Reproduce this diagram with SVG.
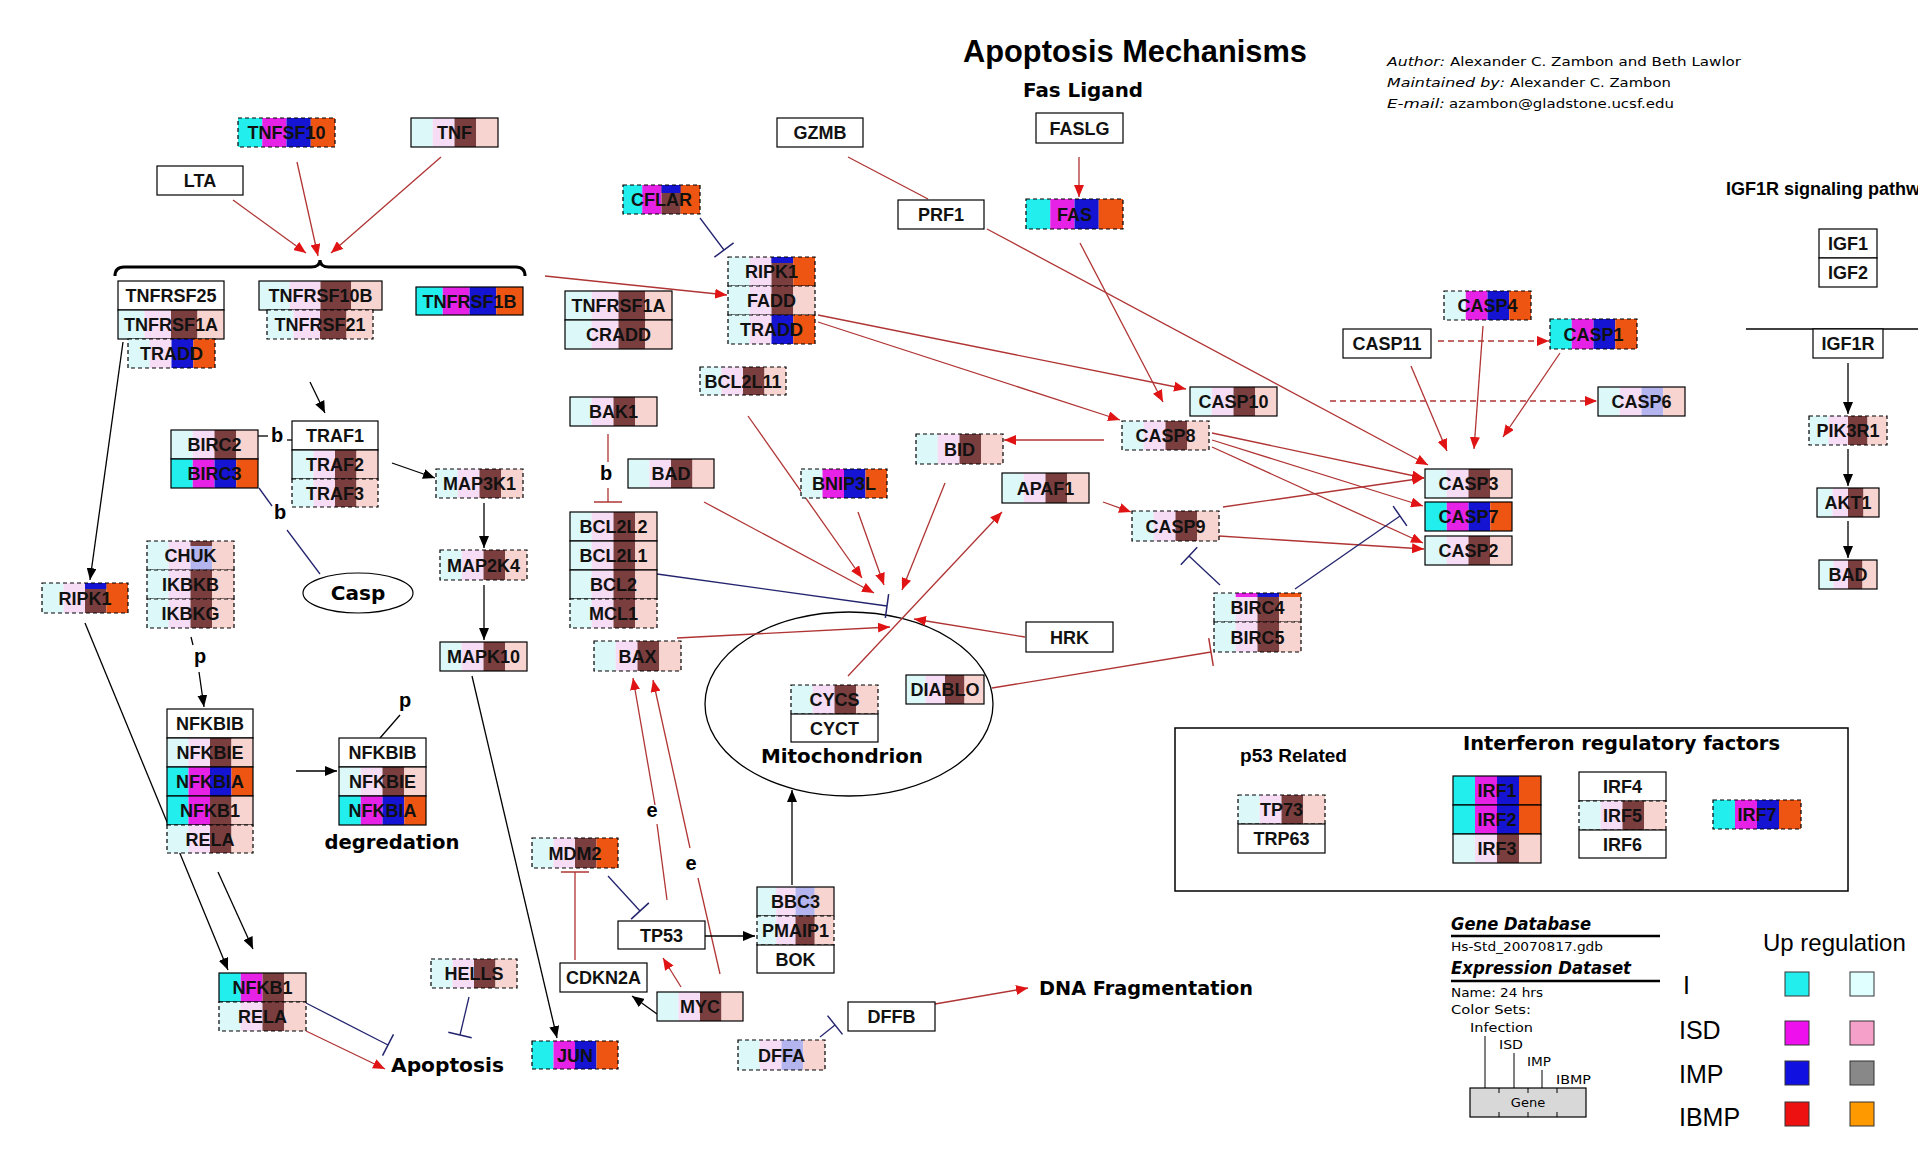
<svg xmlns="http://www.w3.org/2000/svg" width="1918" height="1164" viewBox="0 0 1918 1164">
<style>
.cy{fill:#22eeee}.lcy{fill:#dcf8f8}.mg{fill:#e622e6}.lmg{fill:#f6dcf4}.bl{fill:#1414d2}.br{fill:#7a3e3e}.lv{fill:#b4b4ee}.or{fill:#ee5512}.lor{fill:#f8d4d0}.wh{fill:#ffffff}
.bx{fill:none;stroke:#000;stroke-width:1.2}
.bd{stroke-dasharray:4 3}
.gt{font-family:"Liberation Sans",Arial,sans-serif;font-weight:bold;font-size:18px;text-anchor:middle;fill:#111}
.r{stroke:#b03434;stroke-width:1.3;fill:none}
.rd{stroke-dasharray:6 4}
.k{stroke:#000;stroke-width:1.3;fill:none}
.n{stroke:#23236e;stroke-width:1.3;fill:none}
.lbl{font-family:"DejaVu Sans",Verdana,sans-serif;font-weight:bold;font-size:20px;fill:#000}
.sm{font-family:"Liberation Sans",Arial,sans-serif;font-weight:bold;font-size:20px;fill:#000;text-anchor:middle}
.au{font-family:"DejaVu Sans",Verdana,sans-serif;font-size:13px;fill:#000}
.lg{font-family:"Liberation Sans",Arial,sans-serif;font-size:25px;fill:#000}
.lgs{font-family:"DejaVu Sans",Verdana,sans-serif;font-size:13px;fill:#000}
</style>
<defs>
<marker id="ar" viewBox="0 0 12 10" refX="12" refY="5" markerWidth="12" markerHeight="10" markerUnits="userSpaceOnUse" orient="auto"><path d="M0,0 L12,5 L0,10 z" fill="#e01414"/></marker>
<marker id="ak" viewBox="0 0 12 10" refX="12" refY="5" markerWidth="12" markerHeight="10" markerUnits="userSpaceOnUse" orient="auto"><path d="M0,0 L12,5 L0,10 z" fill="#000"/></marker>
<marker id="tn" viewBox="-2 -14 4 28" refX="0" refY="0" markerWidth="4" markerHeight="28" markerUnits="userSpaceOnUse" orient="auto"><path d="M0,-12 L0,12" stroke="#23236e" stroke-width="1.5"/></marker>
<marker id="tr" viewBox="-2 -15 4 30" refX="0" refY="0" markerWidth="4" markerHeight="30" markerUnits="userSpaceOnUse" orient="auto"><path d="M0,-14 L0,14" stroke="#b03434" stroke-width="1.5"/></marker>
</defs>
<rect width="1918" height="1164" fill="#fff"/>

<g id="labels">
<text x="1135" y="62" font-family="Liberation Sans,Arial,sans-serif" font-weight="bold" font-size="30.5" text-anchor="middle" textLength="344" lengthAdjust="spacingAndGlyphs">Apoptosis Mechanisms</text>
<text x="1083" y="97" class="lbl" text-anchor="middle" textLength="120" lengthAdjust="spacingAndGlyphs">Fas Ligand</text>
<text x="1387" y="66" class="au" font-style="italic" textLength="58" lengthAdjust="spacingAndGlyphs">Author:</text>
<text x="1450" y="66" class="au" textLength="291" lengthAdjust="spacingAndGlyphs">Alexander C. Zambon and Beth Lawlor</text>
<text x="1387" y="87" class="au" font-style="italic" textLength="118" lengthAdjust="spacingAndGlyphs">Maintained by:</text>
<text x="1510" y="87" class="au" textLength="161" lengthAdjust="spacingAndGlyphs">Alexander C. Zambon</text>
<text x="1387" y="108" class="au" font-style="italic" textLength="58" lengthAdjust="spacingAndGlyphs">E-mail:</text>
<text x="1449" y="108" class="au" textLength="225" lengthAdjust="spacingAndGlyphs">azambon@gladstone.ucsf.edu</text>
<text x="1726" y="195" font-family="Liberation Sans,Arial,sans-serif" font-weight="bold" font-size="18">IGF1R signaling pathw</text>
<text x="392" y="849" class="lbl" text-anchor="middle" textLength="135" lengthAdjust="spacingAndGlyphs">degredation</text>
<text x="391" y="1072" class="lbl" textLength="113" lengthAdjust="spacingAndGlyphs">Apoptosis</text>
<text x="842" y="763" class="lbl" text-anchor="middle" textLength="162" lengthAdjust="spacingAndGlyphs">Mitochondrion</text>
<text x="1039" y="995" class="lbl" textLength="214" lengthAdjust="spacingAndGlyphs">DNA Fragmentation</text>
<text x="1240" y="762" font-family="Liberation Sans,Arial,sans-serif" font-weight="bold" font-size="19" textLength="107" lengthAdjust="spacingAndGlyphs">p53 Related</text>
<text x="1463" y="750" class="lbl" font-size="19.5" textLength="317" lengthAdjust="spacingAndGlyphs">Interferon regulatory factors</text>
<text x="277" y="442" class="sm">b</text>
<text x="280" y="519" class="sm">b</text>
<text x="606" y="480" class="sm">b</text>
<text x="200" y="663" class="sm">p</text>
<text x="405" y="707" class="sm">p</text>
<text x="652" y="817" class="sm">e</text>
<text x="691" y="870" class="sm">e</text>
</g>

<g id="compartments">
<path d="M115,276 Q115,267 124,267 L311,267 Q320,267 320,260 Q320,267 329,267 L516,267 Q525,267 525,276" fill="none" stroke="#000" stroke-width="3"/>
<ellipse id="mitochondrion" cx="849" cy="704" rx="144" ry="92" fill="none" stroke="#000" stroke-width="1.3"/>
<g id="Casp"><ellipse cx="358" cy="593" rx="55" ry="20" fill="#fff" stroke="#000" stroke-width="1.2"/><text x="358" y="600" class="lbl" text-anchor="middle">Casp</text></g>
<rect x="1175" y="728" width="673" height="163" fill="none" stroke="#000" stroke-width="1.5"/>
<line x1="1746" y1="329" x2="1918" y2="329" stroke="#000" stroke-width="1.5"/>
</g>

<g id="connectors">
<!-- red activation -->
<line class="r" x1="233" y1="200" x2="306" y2="253" marker-end="url(#ar)"/>
<line class="r" x1="297" y1="162" x2="318" y2="256" marker-end="url(#ar)"/>
<line class="r" x1="441" y1="157" x2="331" y2="253" marker-end="url(#ar)"/>
<line class="r" x1="545" y1="276" x2="727" y2="295" marker-end="url(#ar)"/>
<line class="r" x1="1079" y1="157" x2="1079" y2="197" marker-end="url(#ar)"/>
<line class="r" x1="848" y1="157" x2="928" y2="199"/>
<line class="r" x1="818" y1="315" x2="1186" y2="389" marker-end="url(#ar)"/>
<line class="r" x1="818" y1="322" x2="1120" y2="420" marker-end="url(#ar)"/>
<line class="r" x1="1080" y1="243" x2="1163" y2="402" marker-end="url(#ar)"/>
<line class="r" x1="987" y1="229" x2="1428" y2="465" marker-end="url(#ar)"/>
<line class="r rd" x1="1438" y1="341" x2="1549" y2="341" marker-end="url(#ar)"/>
<line class="r rd" x1="1330" y1="401" x2="1597" y2="401" marker-end="url(#ar)"/>
<line class="r" x1="1411" y1="366" x2="1447" y2="451" marker-end="url(#ar)"/>
<line class="r" x1="1483" y1="326" x2="1474" y2="449" marker-end="url(#ar)"/>
<line class="r" x1="1560" y1="353" x2="1503" y2="437" marker-end="url(#ar)"/>
<line class="r" x1="1104" y1="440" x2="1004" y2="440" marker-end="url(#ar)"/>
<line class="r" x1="1212" y1="433" x2="1424" y2="478" marker-end="url(#ar)"/>
<line class="r" x1="1212" y1="440" x2="1423" y2="506" marker-end="url(#ar)"/>
<line class="r" x1="1212" y1="447" x2="1423" y2="543" marker-end="url(#ar)"/>
<line class="r" x1="1223" y1="507" x2="1424" y2="478" marker-end="url(#ar)"/>
<line class="r" x1="1219" y1="536" x2="1424" y2="549" marker-end="url(#ar)"/>
<line class="r" x1="1103" y1="502" x2="1131" y2="512" marker-end="url(#ar)"/>
<line class="r" x1="848" y1="676" x2="1002" y2="512" marker-end="url(#ar)"/>
<line class="r" x1="704" y1="502" x2="874" y2="593" marker-end="url(#ar)"/>
<line class="r" x1="748" y1="416" x2="862" y2="578" marker-end="url(#ar)"/>
<line class="r" x1="858" y1="512" x2="884" y2="585" marker-end="url(#ar)"/>
<line class="r" x1="945" y1="483" x2="902" y2="590" marker-end="url(#ar)"/>
<line class="r" x1="1025" y1="637" x2="914" y2="619" marker-end="url(#ar)"/>
<line class="r" x1="677" y1="638" x2="890" y2="627" marker-end="url(#ar)"/>
<line class="r" x1="667" y1="900" x2="657" y2="824"/>
<line class="r" x1="655" y1="805" x2="633" y2="678" marker-end="url(#ar)"/>
<line class="r" x1="720" y1="974" x2="698" y2="878"/>
<line class="r" x1="690" y1="848" x2="653" y2="680" marker-end="url(#ar)"/>
<line class="r" x1="681" y1="987" x2="663" y2="958" marker-end="url(#ar)"/>
<line class="r" x1="935" y1="1004" x2="1028" y2="988" marker-end="url(#ar)"/>
<line class="r" x1="306" y1="1031" x2="385" y2="1069" marker-end="url(#ar)"/>
<!-- black activation -->
<line class="k" x1="123" y1="342" x2="90" y2="580" marker-end="url(#ak)"/>
<line class="k" x1="310" y1="382" x2="325" y2="413" marker-end="url(#ak)"/>
<line class="k" x1="392" y1="463" x2="435" y2="478" marker-end="url(#ak)"/>
<line class="k" x1="484" y1="503" x2="484" y2="548" marker-end="url(#ak)"/>
<line class="k" x1="484" y1="585" x2="484" y2="640" marker-end="url(#ak)"/>
<line class="k" x1="472" y1="676" x2="557" y2="1038" marker-end="url(#ak)"/>
<line class="k" x1="191" y1="637" x2="193" y2="645"/>
<line class="k" x1="199" y1="672" x2="204" y2="707" marker-end="url(#ak)"/>
<line class="k" x1="296" y1="771" x2="337" y2="771" marker-end="url(#ak)"/>
<line class="k" x1="85" y1="623" x2="228" y2="970" marker-end="url(#ak)"/>
<line class="k" x1="218" y1="872" x2="253" y2="949" marker-end="url(#ak)"/>
<line class="k" x1="705" y1="936" x2="755" y2="936" marker-end="url(#ak)"/>
<line class="k" x1="792" y1="885" x2="792" y2="790" marker-end="url(#ak)"/>
<line class="k" x1="657" y1="1014" x2="632" y2="996" marker-end="url(#ak)"/>
<line class="k" x1="1848" y1="363" x2="1848" y2="414" marker-end="url(#ak)"/>
<line class="k" x1="1848" y1="449" x2="1848" y2="486" marker-end="url(#ak)"/>
<line class="k" x1="1848" y1="521" x2="1848" y2="558" marker-end="url(#ak)"/>
<!-- plain binding lines -->
<line class="k" x1="258" y1="436" x2="268" y2="436"/>
<line class="k" x1="287" y1="440" x2="292" y2="440"/>
<line class="n" x1="259" y1="488" x2="272" y2="506"/>
<line class="n" x1="287" y1="530" x2="320" y2="574"/>
<line class="k" x1="380" y1="738" x2="400" y2="715"/>
<!-- inhibition -->
<line class="n" x1="700" y1="218" x2="724" y2="250" marker-end="url(#tn)"/>
<line class="n" x1="657" y1="574" x2="887" y2="606" marker-end="url(#tn)"/>
<line class="n" x1="1220" y1="585" x2="1189" y2="556" marker-end="url(#tn)"/>
<line class="n" x1="1295" y1="589" x2="1400" y2="516" marker-end="url(#tn)"/>
<line class="n" x1="306" y1="1003" x2="388" y2="1045" marker-end="url(#tn)"/>
<line class="n" x1="469" y1="997" x2="460" y2="1035" marker-end="url(#tn)"/>
<line class="n" x1="608" y1="876" x2="640" y2="911" marker-end="url(#tn)"/>
<line class="n" x1="820" y1="1037" x2="835" y2="1025" marker-end="url(#tn)"/>
<line class="r" x1="608" y1="434" x2="608" y2="462"/>
<line class="r" x1="608" y1="488" x2="608" y2="502" marker-end="url(#tr)"/>
<line class="r" x1="575" y1="960" x2="575" y2="872" marker-end="url(#tr)"/>
<line class="r" x1="992" y1="688" x2="1211" y2="652" marker-end="url(#tr)"/>
</g>

<g id="nodes">
<g id="TNFSF10" transform="translate(238 118)"><rect class="cy" width="24.25" height="29"/><rect class="mg" x="24.25" width="24.25" height="29"/><rect class="bl" x="48.5" width="24.25" height="29"/><rect class="or" x="72.75" width="24.25" height="29"/><rect class="bx bd" width="97" height="29"/><text class="gt" x="48.5" y="21">TNFSF10</text></g>
<g id="TNF" transform="translate(411 118)"><rect class="lcy" width="21.75" height="29"/><rect class="lmg" x="21.75" width="21.75" height="29"/><rect class="br" x="43.5" width="21.75" height="29"/><rect class="lor" x="65.25" width="21.75" height="29"/><rect class="bx" width="87" height="29"/><text class="gt" x="43.5" y="21">TNF</text></g>
<g id="LTA" transform="translate(157 166)"><rect class="wh" width="86" height="29"/><rect class="bx" width="86" height="29"/><text class="gt" x="43" y="21">LTA</text></g>
<g id="GZMB" transform="translate(777 118)"><rect class="wh" width="86" height="29"/><rect class="bx" width="86" height="29"/><text class="gt" x="43" y="21">GZMB</text></g>
<g id="PRF1" transform="translate(898 200)"><rect class="wh" width="86" height="29"/><rect class="bx" width="86" height="29"/><text class="gt" x="43" y="21">PRF1</text></g>
<g id="FASLG" transform="translate(1036 113)"><rect class="wh" width="87" height="30"/><rect class="bx" width="87" height="30"/><text class="gt" x="43.5" y="21.5">FASLG</text></g>
<g id="FAS" transform="translate(1026 199)"><rect class="cy" width="24.25" height="30"/><rect class="mg" x="24.25" width="24.25" height="30"/><rect class="bl" x="48.5" width="24.25" height="30"/><rect class="or" x="72.75" width="24.25" height="30"/><rect class="bx bd" width="97" height="30"/><text class="gt" x="48.5" y="21.5">FAS</text></g>
<g id="CFLAR" transform="translate(623 185)"><rect class="cy" width="19.25" height="29"/><rect class="mg" x="19.25" width="19.25" height="29"/><rect class="br" x="38.5" width="19.25" height="29"/><rect class="bl" x="38.5" width="19.25" height="8"/><rect class="or" x="57.75" width="19.25" height="29"/><rect class="bx bd" width="77" height="29"/><text class="gt" x="38.5" y="21">CFLAR</text></g>
<g id="RIPK1-a" transform="translate(728 257)"><rect class="lcy" width="21.75" height="29"/><rect class="lmg" x="21.75" width="21.75" height="29"/><rect class="br" x="43.5" width="21.75" height="29"/><rect class="bl" x="43.5" width="21.75" height="6"/><rect class="or" x="65.25" width="21.75" height="29"/><rect class="bx bd" width="87" height="29"/><text class="gt" x="43.5" y="21">RIPK1</text></g>
<g id="FADD" transform="translate(728 286)"><rect class="lcy" width="21.75" height="29"/><rect class="lmg" x="21.75" width="21.75" height="29"/><rect class="br" x="43.5" width="21.75" height="29"/><rect class="lor" x="65.25" width="21.75" height="29"/><rect class="bx bd" width="87" height="29"/><text class="gt" x="43.5" y="21">FADD</text></g>
<g id="TRADD-a" transform="translate(728 315)"><rect class="lcy" width="21.75" height="29"/><rect class="lmg" x="21.75" width="21.75" height="29"/><rect class="bl" x="43.5" width="21.75" height="29"/><rect class="or" x="65.25" width="21.75" height="29"/><rect class="bx bd" width="87" height="29"/><text class="gt" x="43.5" y="21">TRADD</text></g>
<g id="TNFRSF1A-a" transform="translate(565 291)"><rect class="lcy" width="26.75" height="29"/><rect class="lmg" x="26.75" width="26.75" height="29"/><rect class="br" x="53.5" width="26.75" height="29"/><rect class="lor" x="80.25" width="26.75" height="29"/><rect class="bx" width="107" height="29"/><text class="gt" x="53.5" y="21">TNFRSF1A</text></g>
<g id="CRADD" transform="translate(565 320)"><rect class="lcy" width="26.75" height="29"/><rect class="lmg" x="26.75" width="26.75" height="29"/><rect class="br" x="53.5" width="26.75" height="29"/><rect class="lor" x="80.25" width="26.75" height="29"/><rect class="bx" width="107" height="29"/><text class="gt" x="53.5" y="21">CRADD</text></g>
<g id="BCL2L11" transform="translate(700 367)"><rect class="lcy" width="21.5" height="28"/><rect class="lmg" x="21.5" width="21.5" height="28"/><rect class="br" x="43" width="21.5" height="28"/><rect class="lor" x="64.5" width="21.5" height="28"/><rect class="bx bd" width="86" height="28"/><text class="gt" x="43" y="20.5">BCL2L11</text></g>
<g id="TNFRSF25" transform="translate(118 281)"><rect class="wh" width="106" height="29"/><rect class="bx" width="106" height="29"/><text class="gt" x="53" y="21">TNFRSF25</text></g>
<g id="TNFRSF1A-b" transform="translate(118 310)"><rect class="lcy" width="26.5" height="29"/><rect class="lmg" x="26.5" width="26.5" height="29"/><rect class="br" x="53" width="26.5" height="29"/><rect class="lor" x="79.5" width="26.5" height="29"/><rect class="bx" width="106" height="29"/><text class="gt" x="53" y="21">TNFRSF1A</text></g>
<g id="TRADD-b" transform="translate(128 339)"><rect class="lcy" width="21.75" height="29"/><rect class="lmg" x="21.75" width="21.75" height="29"/><rect class="bl" x="43.5" width="21.75" height="29"/><rect class="or" x="65.25" width="21.75" height="29"/><rect class="bx bd" width="87" height="29"/><text class="gt" x="43.5" y="21">TRADD</text></g>
<g id="TNFRSF10B" transform="translate(259 281)"><rect class="lcy" width="30.75" height="29"/><rect class="lmg" x="30.75" width="30.75" height="29"/><rect class="br" x="61.5" width="30.75" height="29"/><rect class="lor" x="92.25" width="30.75" height="29"/><rect class="bx" width="123" height="29"/><text class="gt" x="61.5" y="21">TNFRSF10B</text></g>
<g id="TNFRSF21" transform="translate(267 310)"><rect class="lcy" width="26.5" height="29"/><rect class="lmg" x="26.5" width="26.5" height="29"/><rect class="br" x="53" width="26.5" height="29"/><rect class="lor" x="79.5" width="26.5" height="29"/><rect class="bx bd" width="106" height="29"/><text class="gt" x="53" y="21">TNFRSF21</text></g>
<g id="TNFRSF1B" transform="translate(416 287)"><rect class="cy" width="26.75" height="28"/><rect class="mg" x="26.75" width="26.75" height="28"/><rect class="bl" x="53.5" width="26.75" height="28"/><rect class="or" x="80.25" width="26.75" height="28"/><rect class="bx" width="107" height="28"/><text class="gt" x="53.5" y="20.5">TNFRSF1B</text></g>
<g id="CASP11" transform="translate(1343 329)"><rect class="wh" width="88" height="29"/><rect class="bx" width="88" height="29"/><text class="gt" x="44" y="21">CASP11</text></g>
<g id="CASP4" transform="translate(1444 291)"><rect class="lcy" width="21.75" height="29"/><rect class="mg" x="21.75" width="21.75" height="29"/><rect class="bl" x="43.5" width="21.75" height="29"/><rect class="or" x="65.25" width="21.75" height="29"/><rect class="bx bd" width="87" height="29"/><text class="gt" x="43.5" y="21">CASP4</text></g>
<g id="CASP1" transform="translate(1550 319)"><rect class="cy" width="21.75" height="30"/><rect class="mg" x="21.75" width="21.75" height="30"/><rect class="bl" x="43.5" width="21.75" height="30"/><rect class="or" x="65.25" width="21.75" height="30"/><rect class="bx bd" width="87" height="30"/><text class="gt" x="43.5" y="21.5">CASP1</text></g>
<g id="IGF1" transform="translate(1819 229)"><rect class="wh" width="58" height="29"/><rect class="bx" width="58" height="29"/><text class="gt" x="29" y="21">IGF1</text></g>
<g id="IGF2" transform="translate(1819 258)"><rect class="wh" width="58" height="29"/><rect class="bx" width="58" height="29"/><text class="gt" x="29" y="21">IGF2</text></g>
<g id="IGF1R" transform="translate(1813 329)"><rect class="wh" width="70" height="29"/><rect class="bx" width="70" height="29"/><text class="gt" x="35" y="21">IGF1R</text></g>
<g id="PIK3R1" transform="translate(1809 416)"><rect class="lcy" width="19.5" height="29"/><rect class="lmg" x="19.5" width="19.5" height="29"/><rect class="br" x="39" width="19.5" height="29"/><rect class="lor" x="58.5" width="19.5" height="29"/><rect class="bx bd" width="78" height="29"/><text class="gt" x="39" y="21">PIK3R1</text></g>
<g id="AKT1" transform="translate(1817 488)"><rect class="lcy" width="15.5" height="29"/><rect class="lmg" x="15.5" width="15.5" height="29"/><rect class="br" x="31" width="15.5" height="29"/><rect class="lor" x="46.5" width="15.5" height="29"/><rect class="bx" width="62" height="29"/><text class="gt" x="31" y="21">AKT1</text></g>
<g id="BAD-b" transform="translate(1819 560)"><rect class="lcy" width="14.5" height="29"/><rect class="lmg" x="14.5" width="14.5" height="29"/><rect class="br" x="29" width="14.5" height="29"/><rect class="lor" x="43.5" width="14.5" height="29"/><rect class="bx" width="58" height="29"/><text class="gt" x="29" y="21">BAD</text></g>
<g id="CASP6" transform="translate(1598 387)"><rect class="lcy" width="21.75" height="29"/><rect class="lmg" x="21.75" width="21.75" height="29"/><rect class="lv" x="43.5" width="21.75" height="29"/><rect class="lor" x="65.25" width="21.75" height="29"/><rect class="bx" width="87" height="29"/><text class="gt" x="43.5" y="21">CASP6</text></g>
<g id="CASP10" transform="translate(1190 387)"><rect class="lcy" width="21.75" height="29"/><rect class="lmg" x="21.75" width="21.75" height="29"/><rect class="br" x="43.5" width="21.75" height="29"/><rect class="lor" x="65.25" width="21.75" height="29"/><rect class="bx" width="87" height="29"/><text class="gt" x="43.5" y="21">CASP10</text></g>
<g id="CASP8" transform="translate(1122 421)"><rect class="lcy" width="21.75" height="29"/><rect class="lmg" x="21.75" width="21.75" height="29"/><rect class="br" x="43.5" width="21.75" height="29"/><rect class="lor" x="65.25" width="21.75" height="29"/><rect class="bx bd" width="87" height="29"/><text class="gt" x="43.5" y="21">CASP8</text></g>
<g id="BID" transform="translate(916 434)"><rect class="lcy" width="21.75" height="30"/><rect class="lmg" x="21.75" width="21.75" height="30"/><rect class="br" x="43.5" width="21.75" height="30"/><rect class="lor" x="65.25" width="21.75" height="30"/><rect class="bx bd" width="87" height="30"/><text class="gt" x="43.5" y="21.5">BID</text></g>
<g id="APAF1" transform="translate(1002 473)"><rect class="lcy" width="21.75" height="30"/><rect class="lmg" x="21.75" width="21.75" height="30"/><rect class="br" x="43.5" width="21.75" height="30"/><rect class="lor" x="65.25" width="21.75" height="30"/><rect class="bx" width="87" height="30"/><text class="gt" x="43.5" y="21.5">APAF1</text></g>
<g id="CASP9" transform="translate(1132 511)"><rect class="lcy" width="21.75" height="30"/><rect class="lmg" x="21.75" width="21.75" height="30"/><rect class="br" x="43.5" width="21.75" height="30"/><rect class="lor" x="65.25" width="21.75" height="30"/><rect class="bx bd" width="87" height="30"/><text class="gt" x="43.5" y="21.5">CASP9</text></g>
<g id="CASP3" transform="translate(1425 469)"><rect class="lcy" width="21.75" height="29"/><rect class="lmg" x="21.75" width="21.75" height="29"/><rect class="br" x="43.5" width="21.75" height="29"/><rect class="lor" x="65.25" width="21.75" height="29"/><rect class="bx" width="87" height="29"/><text class="gt" x="43.5" y="21">CASP3</text></g>
<g id="CASP7" transform="translate(1425 502)"><rect class="cy" width="21.75" height="29"/><rect class="mg" x="21.75" width="21.75" height="29"/><rect class="bl" x="43.5" width="21.75" height="29"/><rect class="or" x="65.25" width="21.75" height="29"/><rect class="bx" width="87" height="29"/><text class="gt" x="43.5" y="21">CASP7</text></g>
<g id="CASP2" transform="translate(1425 536)"><rect class="lcy" width="21.75" height="29"/><rect class="lmg" x="21.75" width="21.75" height="29"/><rect class="br" x="43.5" width="21.75" height="29"/><rect class="lor" x="65.25" width="21.75" height="29"/><rect class="bx" width="87" height="29"/><text class="gt" x="43.5" y="21">CASP2</text></g>
<g id="BIRC4" transform="translate(1214 593)"><rect class="lcy" width="21.75" height="29"/><rect class="lmg" x="21.75" width="21.75" height="29"/><rect class="mg" x="21.75" width="21.75" height="4"/><rect class="br" x="43.5" width="21.75" height="29"/><rect class="bl" x="43.5" width="21.75" height="4"/><rect class="lor" x="65.25" width="21.75" height="29"/><rect class="or" x="65.25" width="21.75" height="4"/><rect class="bx bd" width="87" height="29"/><text class="gt" x="43.5" y="21">BIRC4</text></g>
<g id="BIRC5" transform="translate(1214 622)"><rect class="lcy" width="21.75" height="30"/><rect class="lmg" x="21.75" width="21.75" height="30"/><rect class="br" x="43.5" width="21.75" height="30"/><rect class="lor" x="65.25" width="21.75" height="30"/><rect class="bx bd" width="87" height="30"/><text class="gt" x="43.5" y="21.5">BIRC5</text></g>
<g id="HRK" transform="translate(1026 622)"><rect class="wh" width="87" height="30"/><rect class="bx" width="87" height="30"/><text class="gt" x="43.5" y="21.5">HRK</text></g>
<g id="DIABLO" transform="translate(906 675)"><rect class="lcy" width="19.5" height="29"/><rect class="lmg" x="19.5" width="19.5" height="29"/><rect class="br" x="39" width="19.5" height="29"/><rect class="lor" x="58.5" width="19.5" height="29"/><rect class="bx" width="78" height="29"/><text class="gt" x="39" y="21">DIABLO</text></g>
<g id="CYCS" transform="translate(791 685)"><rect class="lcy" width="21.75" height="29"/><rect class="lmg" x="21.75" width="21.75" height="29"/><rect class="br" x="43.5" width="21.75" height="29"/><rect class="lor" x="65.25" width="21.75" height="29"/><rect class="bx bd" width="87" height="29"/><text class="gt" x="43.5" y="21">CYCS</text></g>
<g id="CYCT" transform="translate(791 714)"><rect class="wh" width="87" height="28"/><rect class="bx" width="87" height="28"/><text class="gt" x="43.5" y="20.5">CYCT</text></g>
<g id="BAK1" transform="translate(570 397)"><rect class="lcy" width="21.75" height="29"/><rect class="lmg" x="21.75" width="21.75" height="29"/><rect class="br" x="43.5" width="21.75" height="29"/><rect class="lor" x="65.25" width="21.75" height="29"/><rect class="bx" width="87" height="29"/><text class="gt" x="43.5" y="21">BAK1</text></g>
<g id="BAD-a" transform="translate(628 459)"><rect class="lcy" width="21.5" height="29"/><rect class="lmg" x="21.5" width="21.5" height="29"/><rect class="br" x="43" width="21.5" height="29"/><rect class="lor" x="64.5" width="21.5" height="29"/><rect class="bx" width="86" height="29"/><text class="gt" x="43" y="21">BAD</text></g>
<g id="BCL2L2" transform="translate(570 512)"><rect class="lcy" width="21.75" height="29"/><rect class="lmg" x="21.75" width="21.75" height="29"/><rect class="br" x="43.5" width="21.75" height="29"/><rect class="lor" x="65.25" width="21.75" height="29"/><rect class="bx" width="87" height="29"/><text class="gt" x="43.5" y="21">BCL2L2</text></g>
<g id="BCL2L1" transform="translate(570 541)"><rect class="lcy" width="21.75" height="29"/><rect class="lmg" x="21.75" width="21.75" height="29"/><rect class="br" x="43.5" width="21.75" height="29"/><rect class="lor" x="65.25" width="21.75" height="29"/><rect class="bx" width="87" height="29"/><text class="gt" x="43.5" y="21">BCL2L1</text></g>
<g id="BCL2" transform="translate(570 570)"><rect class="lcy" width="21.75" height="29"/><rect class="lmg" x="21.75" width="21.75" height="29"/><rect class="br" x="43.5" width="21.75" height="29"/><rect class="lor" x="65.25" width="21.75" height="29"/><rect class="bx" width="87" height="29"/><text class="gt" x="43.5" y="21">BCL2</text></g>
<g id="MCL1" transform="translate(570 599)"><rect class="lcy" width="21.75" height="29"/><rect class="lmg" x="21.75" width="21.75" height="29"/><rect class="br" x="43.5" width="21.75" height="29"/><rect class="lor" x="65.25" width="21.75" height="29"/><rect class="bx bd" width="87" height="29"/><text class="gt" x="43.5" y="21">MCL1</text></g>
<g id="BAX" transform="translate(594 641)"><rect class="lcy" width="21.75" height="30"/><rect class="lmg" x="21.75" width="21.75" height="30"/><rect class="br" x="43.5" width="21.75" height="30"/><rect class="lor" x="65.25" width="21.75" height="30"/><rect class="bx bd" width="87" height="30"/><text class="gt" x="43.5" y="21.5">BAX</text></g>
<g id="BNIP3L" transform="translate(801 469)"><rect class="lcy" width="21.5" height="29"/><rect class="mg" x="21.5" width="21.5" height="29"/><rect class="bl" x="43" width="21.5" height="29"/><rect class="or" x="64.5" width="21.5" height="29"/><rect class="bx bd" width="86" height="29"/><text class="gt" x="43" y="21">BNIP3L</text></g>
<g id="MAP3K1" transform="translate(436 469)"><rect class="lcy" width="21.75" height="29"/><rect class="lmg" x="21.75" width="21.75" height="29"/><rect class="br" x="43.5" width="21.75" height="29"/><rect class="lor" x="65.25" width="21.75" height="29"/><rect class="bx bd" width="87" height="29"/><text class="gt" x="43.5" y="21">MAP3K1</text></g>
<g id="MAP2K4" transform="translate(440 550)"><rect class="lcy" width="21.75" height="30"/><rect class="lmg" x="21.75" width="21.75" height="30"/><rect class="br" x="43.5" width="21.75" height="30"/><rect class="lor" x="65.25" width="21.75" height="30"/><rect class="bx bd" width="87" height="30"/><text class="gt" x="43.5" y="21.5">MAP2K4</text></g>
<g id="MAPK10" transform="translate(440 642)"><rect class="lcy" width="21.75" height="29"/><rect class="lmg" x="21.75" width="21.75" height="29"/><rect class="br" x="43.5" width="21.75" height="29"/><rect class="lor" x="65.25" width="21.75" height="29"/><rect class="bx" width="87" height="29"/><text class="gt" x="43.5" y="21">MAPK10</text></g>
<g id="BIRC2" transform="translate(171 430)"><rect class="lcy" width="21.75" height="29"/><rect class="lmg" x="21.75" width="21.75" height="29"/><rect class="br" x="43.5" width="21.75" height="29"/><rect class="lor" x="65.25" width="21.75" height="29"/><rect class="bx" width="87" height="29"/><text class="gt" x="43.5" y="21">BIRC2</text></g>
<g id="BIRC3" transform="translate(171 459)"><rect class="cy" width="21.75" height="29"/><rect class="mg" x="21.75" width="21.75" height="29"/><rect class="bl" x="43.5" width="21.75" height="29"/><rect class="or" x="65.25" width="21.75" height="29"/><rect class="bx" width="87" height="29"/><text class="gt" x="43.5" y="21">BIRC3</text></g>
<g id="TRAF1" transform="translate(292 421)"><rect class="wh" width="86" height="29"/><rect class="bx" width="86" height="29"/><text class="gt" x="43" y="21">TRAF1</text></g>
<g id="TRAF2" transform="translate(292 450)"><rect class="lcy" width="21.5" height="29"/><rect class="lmg" x="21.5" width="21.5" height="29"/><rect class="br" x="43" width="21.5" height="29"/><rect class="lor" x="64.5" width="21.5" height="29"/><rect class="bx" width="86" height="29"/><text class="gt" x="43" y="21">TRAF2</text></g>
<g id="TRAF3" transform="translate(292 479)"><rect class="lcy" width="21.5" height="28"/><rect class="lmg" x="21.5" width="21.5" height="28"/><rect class="br" x="43" width="21.5" height="28"/><rect class="lor" x="64.5" width="21.5" height="28"/><rect class="bx bd" width="86" height="28"/><text class="gt" x="43" y="20.5">TRAF3</text></g>
<g id="RIPK1-b" transform="translate(42 583)"><rect class="lcy" width="21.5" height="30"/><rect class="lmg" x="21.5" width="21.5" height="30"/><rect class="br" x="43" width="21.5" height="30"/><rect class="bl" x="43" width="21.5" height="6"/><rect class="or" x="64.5" width="21.5" height="30"/><rect class="bx bd" width="86" height="30"/><text class="gt" x="43" y="21.5">RIPK1</text></g>
<g id="CHUK" transform="translate(147 541)"><rect class="lcy" width="21.75" height="29"/><rect class="lmg" x="21.75" width="21.75" height="29"/><rect class="lv" x="43.5" width="21.75" height="29"/><rect class="br" x="43.5" width="21.75" height="5"/><rect class="lor" x="65.25" width="21.75" height="29"/><rect class="bx bd" width="87" height="29"/><text class="gt" x="43.5" y="21">CHUK</text></g>
<g id="IKBKB" transform="translate(147 570)"><rect class="lcy" width="21.75" height="29"/><rect class="lmg" x="21.75" width="21.75" height="29"/><rect class="br" x="43.5" width="21.75" height="29"/><rect class="lor" x="65.25" width="21.75" height="29"/><rect class="bx bd" width="87" height="29"/><text class="gt" x="43.5" y="21">IKBKB</text></g>
<g id="IKBKG" transform="translate(147 599)"><rect class="lcy" width="21.75" height="29"/><rect class="lmg" x="21.75" width="21.75" height="29"/><rect class="br" x="43.5" width="21.75" height="29"/><rect class="lor" x="65.25" width="21.75" height="29"/><rect class="bx bd" width="87" height="29"/><text class="gt" x="43.5" y="21">IKBKG</text></g>
<g id="NFKBIB-a" transform="translate(167 709)"><rect class="wh" width="86" height="29"/><rect class="bx" width="86" height="29"/><text class="gt" x="43" y="21">NFKBIB</text></g>
<g id="NFKBIE-a" transform="translate(167 738)"><rect class="lcy" width="21.5" height="29"/><rect class="lmg" x="21.5" width="21.5" height="29"/><rect class="br" x="43" width="21.5" height="29"/><rect class="lor" x="64.5" width="21.5" height="29"/><rect class="bx" width="86" height="29"/><text class="gt" x="43" y="21">NFKBIE</text></g>
<g id="NFKBIA-a" transform="translate(167 767)"><rect class="cy" width="21.5" height="29"/><rect class="mg" x="21.5" width="21.5" height="29"/><rect class="bl" x="43" width="21.5" height="29"/><rect class="or" x="64.5" width="21.5" height="29"/><rect class="bx" width="86" height="29"/><text class="gt" x="43" y="21">NFKBIA</text></g>
<g id="NFKB1-a" transform="translate(167 796)"><rect class="cy" width="21.5" height="29"/><rect class="mg" x="21.5" width="21.5" height="29"/><rect class="br" x="43" width="21.5" height="29"/><rect class="lor" x="64.5" width="21.5" height="29"/><rect class="bx" width="86" height="29"/><text class="gt" x="43" y="21">NFKB1</text></g>
<g id="RELA-a" transform="translate(167 825)"><rect class="lcy" width="21.5" height="28"/><rect class="lmg" x="21.5" width="21.5" height="28"/><rect class="br" x="43" width="21.5" height="28"/><rect class="lor" x="64.5" width="21.5" height="28"/><rect class="bx bd" width="86" height="28"/><text class="gt" x="43" y="20.5">RELA</text></g>
<g id="NFKBIB-b" transform="translate(339 738)"><rect class="wh" width="87" height="29"/><rect class="bx" width="87" height="29"/><text class="gt" x="43.5" y="21">NFKBIB</text></g>
<g id="NFKBIE-b" transform="translate(339 767)"><rect class="lcy" width="21.75" height="29"/><rect class="lmg" x="21.75" width="21.75" height="29"/><rect class="br" x="43.5" width="21.75" height="29"/><rect class="lor" x="65.25" width="21.75" height="29"/><rect class="bx" width="87" height="29"/><text class="gt" x="43.5" y="21">NFKBIE</text></g>
<g id="NFKBIA-b" transform="translate(339 796)"><rect class="cy" width="21.75" height="29"/><rect class="mg" x="21.75" width="21.75" height="29"/><rect class="bl" x="43.5" width="21.75" height="29"/><rect class="or" x="65.25" width="21.75" height="29"/><rect class="bx" width="87" height="29"/><text class="gt" x="43.5" y="21">NFKBIA</text></g>
<g id="NFKB1-b" transform="translate(219 973)"><rect class="cy" width="21.75" height="29"/><rect class="mg" x="21.75" width="21.75" height="29"/><rect class="br" x="43.5" width="21.75" height="29"/><rect class="lor" x="65.25" width="21.75" height="29"/><rect class="bx" width="87" height="29"/><text class="gt" x="43.5" y="21">NFKB1</text></g>
<g id="RELA-b" transform="translate(219 1002)"><rect class="lcy" width="21.75" height="29"/><rect class="lmg" x="21.75" width="21.75" height="29"/><rect class="br" x="43.5" width="21.75" height="29"/><rect class="lor" x="65.25" width="21.75" height="29"/><rect class="bx bd" width="87" height="29"/><text class="gt" x="43.5" y="21">RELA</text></g>
<g id="HELLS" transform="translate(431 959)"><rect class="lcy" width="21.5" height="29"/><rect class="lmg" x="21.5" width="21.5" height="29"/><rect class="br" x="43" width="21.5" height="29"/><rect class="lor" x="64.5" width="21.5" height="29"/><rect class="bx bd" width="86" height="29"/><text class="gt" x="43" y="21">HELLS</text></g>
<g id="JUN" transform="translate(532 1041)"><rect class="cy" width="21.5" height="28"/><rect class="mg" x="21.5" width="21.5" height="28"/><rect class="bl" x="43" width="21.5" height="28"/><rect class="or" x="64.5" width="21.5" height="28"/><rect class="bx bd" width="86" height="28"/><text class="gt" x="43" y="20.5">JUN</text></g>
<g id="MDM2" transform="translate(532 838)"><rect class="lcy" width="21.5" height="30"/><rect class="lmg" x="21.5" width="21.5" height="30"/><rect class="br" x="43" width="21.5" height="30"/><rect class="or" x="64.5" width="21.5" height="30"/><rect class="bx bd" width="86" height="30"/><text class="gt" x="43" y="21.5">MDM2</text></g>
<g id="CDKN2A" transform="translate(560 963)"><rect class="wh" width="87" height="29"/><rect class="bx" width="87" height="29"/><text class="gt" x="43.5" y="21">CDKN2A</text></g>
<g id="TP53" transform="translate(618 921)"><rect class="wh" width="87" height="28"/><rect class="bx" width="87" height="28"/><text class="gt" x="43.5" y="20.5">TP53</text></g>
<g id="MYC" transform="translate(657 992)"><rect class="lcy" width="21.5" height="29"/><rect class="lmg" x="21.5" width="21.5" height="29"/><rect class="br" x="43" width="21.5" height="29"/><rect class="lor" x="64.5" width="21.5" height="29"/><rect class="bx" width="86" height="29"/><text class="gt" x="43" y="21">MYC</text></g>
<g id="BBC3" transform="translate(757 887)"><rect class="lcy" width="19.25" height="29"/><rect class="lmg" x="19.25" width="19.25" height="29"/><rect class="lv" x="38.5" width="19.25" height="29"/><rect class="lor" x="57.75" width="19.25" height="29"/><rect class="bx" width="77" height="29"/><text class="gt" x="38.5" y="21">BBC3</text></g>
<g id="PMAIP1" transform="translate(757 916)"><rect class="lcy" width="19.25" height="29"/><rect class="lmg" x="19.25" width="19.25" height="29"/><rect class="br" x="38.5" width="19.25" height="29"/><rect class="lor" x="57.75" width="19.25" height="29"/><rect class="bx bd" width="77" height="29"/><text class="gt" x="38.5" y="21">PMAIP1</text></g>
<g id="BOK" transform="translate(757 945)"><rect class="wh" width="77" height="28"/><rect class="bx" width="77" height="28"/><text class="gt" x="38.5" y="20.5">BOK</text></g>
<g id="DFFA" transform="translate(738 1040)"><rect class="lcy" width="21.75" height="30"/><rect class="lmg" x="21.75" width="21.75" height="30"/><rect class="lv" x="43.5" width="21.75" height="30"/><rect class="lor" x="65.25" width="21.75" height="30"/><rect class="bx bd" width="87" height="30"/><text class="gt" x="43.5" y="21.5">DFFA</text></g>
<g id="DFFB" transform="translate(848 1002)"><rect class="wh" width="87" height="29"/><rect class="bx" width="87" height="29"/><text class="gt" x="43.5" y="21">DFFB</text></g>
<g id="TP73" transform="translate(1238 795)"><rect class="lcy" width="21.75" height="29"/><rect class="lmg" x="21.75" width="21.75" height="29"/><rect class="br" x="43.5" width="21.75" height="29"/><rect class="lor" x="65.25" width="21.75" height="29"/><rect class="bx bd" width="87" height="29"/><text class="gt" x="43.5" y="21">TP73</text></g>
<g id="TRP63" transform="translate(1238 824)"><rect class="wh" width="87" height="29"/><rect class="bx" width="87" height="29"/><text class="gt" x="43.5" y="21">TRP63</text></g>
<g id="IRF1" transform="translate(1453 776)"><rect class="cy" width="22" height="29"/><rect class="mg" x="22" width="22" height="29"/><rect class="bl" x="44" width="22" height="29"/><rect class="or" x="66" width="22" height="29"/><rect class="bx" width="88" height="29"/><text class="gt" x="44" y="21">IRF1</text></g>
<g id="IRF2" transform="translate(1453 805)"><rect class="cy" width="22" height="29"/><rect class="mg" x="22" width="22" height="29"/><rect class="bl" x="44" width="22" height="29"/><rect class="or" x="66" width="22" height="29"/><rect class="bx" width="88" height="29"/><text class="gt" x="44" y="21">IRF2</text></g>
<g id="IRF3" transform="translate(1453 834)"><rect class="lcy" width="22" height="29"/><rect class="lmg" x="22" width="22" height="29"/><rect class="br" x="44" width="22" height="29"/><rect class="lor" x="66" width="22" height="29"/><rect class="bx" width="88" height="29"/><text class="gt" x="44" y="21">IRF3</text></g>
<g id="IRF4" transform="translate(1579 772)"><rect class="wh" width="87" height="29"/><rect class="bx" width="87" height="29"/><text class="gt" x="43.5" y="21">IRF4</text></g>
<g id="IRF5" transform="translate(1579 801)"><rect class="lcy" width="21.75" height="29"/><rect class="lmg" x="21.75" width="21.75" height="29"/><rect class="br" x="43.5" width="21.75" height="29"/><rect class="lor" x="65.25" width="21.75" height="29"/><rect class="bx bd" width="87" height="29"/><text class="gt" x="43.5" y="21">IRF5</text></g>
<g id="IRF6" transform="translate(1579 830)"><rect class="wh" width="87" height="28"/><rect class="bx" width="87" height="28"/><text class="gt" x="43.5" y="20.5">IRF6</text></g>
<g id="IRF7" transform="translate(1713 800)"><rect class="cy" width="22" height="29"/><rect class="mg" x="22" width="22" height="29"/><rect class="bl" x="44" width="22" height="29"/><rect class="or" x="66" width="22" height="29"/><rect class="bx bd" width="88" height="29"/><text class="gt" x="44" y="21">IRF7</text></g>
</g>

<g id="legend">
<text x="1451" y="930" font-family="DejaVu Sans,Verdana,sans-serif" font-weight="bold" font-style="italic" font-size="17" textLength="140" lengthAdjust="spacingAndGlyphs">Gene Database</text>
<line x1="1451" y1="936" x2="1660" y2="936" stroke="#000" stroke-width="2.5"/>
<text x="1451" y="951" class="lgs" textLength="152" lengthAdjust="spacingAndGlyphs">Hs-Std_20070817.gdb</text>
<text x="1451" y="974" font-family="DejaVu Sans,Verdana,sans-serif" font-weight="bold" font-style="italic" font-size="17" textLength="180" lengthAdjust="spacingAndGlyphs">Expression Dataset</text>
<line x1="1451" y1="981" x2="1660" y2="981" stroke="#000" stroke-width="2.5"/>
<text x="1451" y="997" class="lgs" textLength="92" lengthAdjust="spacingAndGlyphs">Name: 24 hrs</text>
<text x="1451" y="1014" class="lgs" textLength="80" lengthAdjust="spacingAndGlyphs">Color Sets:</text>
<text x="1470" y="1032" class="lgs" textLength="63" lengthAdjust="spacingAndGlyphs">Infection</text>
<text x="1499" y="1049" class="lgs" font-size="12" textLength="24" lengthAdjust="spacingAndGlyphs">ISD</text>
<text x="1527" y="1066" class="lgs" font-size="11" textLength="24" lengthAdjust="spacingAndGlyphs">IMP</text>
<text x="1556" y="1084" class="lgs" font-size="11" textLength="35" lengthAdjust="spacingAndGlyphs">IBMP</text>
<line x1="1485" y1="1036" x2="1485" y2="1088" stroke="#000"/>
<line x1="1514" y1="1053" x2="1514" y2="1088" stroke="#000"/>
<line x1="1542" y1="1070" x2="1542" y2="1088" stroke="#000"/>
<rect x="1470" y="1088" width="116" height="29" fill="#d8d8d8" stroke="#000" stroke-width="1.2"/>
<path d="M1499,1088v5M1528,1088v5M1557,1088v5M1499,1117v-5M1528,1117v-5M1557,1117v-5" stroke="#000"/>
<text x="1528" y="1107" class="lgs" text-anchor="middle">Gene</text>
<text x="1763" y="951" font-family="Liberation Sans,Arial,sans-serif" font-size="24">Up regulation</text>
<text x="1683" y="994" class="lg">I</text>
<text x="1679" y="1039" class="lg">ISD</text>
<text x="1679" y="1083" class="lg">IMP</text>
<text x="1679" y="1126" class="lg">IBMP</text>
<g stroke="#333" stroke-width="1">
<rect x="1785" y="972" width="24" height="24" fill="#22eeee"/>
<rect x="1850" y="972" width="24" height="24" fill="#e0ffff"/>
<rect x="1785" y="1021" width="24" height="24" fill="#ee11ee"/>
<rect x="1850" y="1021" width="24" height="24" fill="#f4a0c8"/>
<rect x="1785" y="1061" width="24" height="24" fill="#1010e0"/>
<rect x="1850" y="1061" width="24" height="24" fill="#888888"/>
<rect x="1785" y="1102" width="24" height="24" fill="#ee1111"/>
<rect x="1850" y="1102" width="24" height="24" fill="#ff9900"/>
</g>
</g>
</svg>
